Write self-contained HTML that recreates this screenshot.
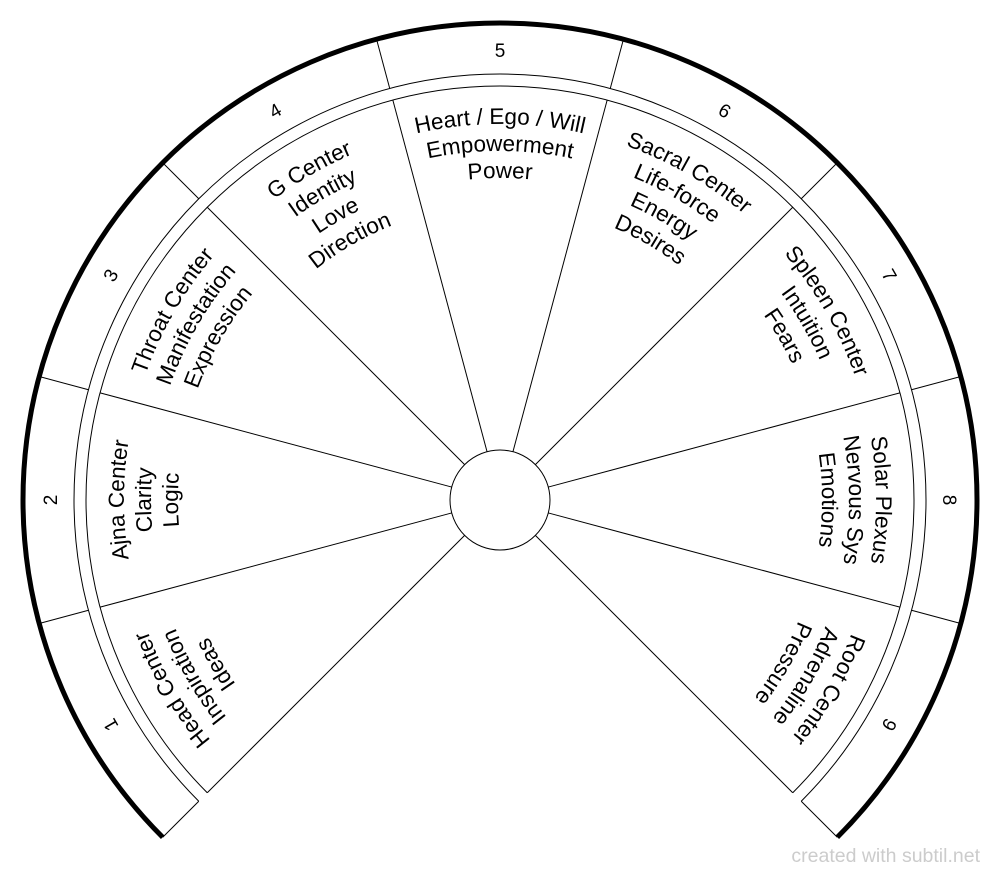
<!DOCTYPE html>
<html><head><meta charset="utf-8"><style>
html,body{margin:0;padding:0;background:#fff;width:1000px;height:876px;overflow:hidden}
svg{display:block}
text{font-family:"Liberation Sans",sans-serif}
</style></head><body>
<svg id="s" width="1000" height="876" viewBox="0 0 1000 876" xmlns="http://www.w3.org/2000/svg"></svg>
<script>
var C=500,CY=500,s=document.getElementById('s'),h='';
function pt(a,r){var t=a*Math.PI/180;return [C+r*Math.sin(t),CY-r*Math.cos(t)];}
function arc(a1,a2,r){var p=pt(a1,r),q=pt(a2,r),l=(a2-a1)>180?1:0;return 'M'+p[0].toFixed(2)+' '+p[1].toFixed(2)+' A'+r+' '+r+' 0 '+l+' 1 '+q[0].toFixed(2)+' '+q[1].toFixed(2);}
h+='<path d="'+arc(-135,135,477)+'" fill="none" stroke="#000" stroke-width="5"/>';
h+='<path d="'+arc(-135,135,426)+'" fill="none" stroke="#000" stroke-width="1"/>';
h+='<path d="'+arc(-135,135,414)+'" fill="none" stroke="#000" stroke-width="1"/>';
h+='<circle cx="500" cy="500" r="50" fill="none" stroke="#000" stroke-width="1"/>';
for(var i=0;i<=9;i++){var a=-135+30*i;var p=pt(a,426),q=pt(a,477);
h+='<line x1="'+p[0]+'" y1="'+p[1]+'" x2="'+q[0]+'" y2="'+q[1]+'" stroke="#000" stroke-width="1"/>';
p=pt(a,50);q=pt(a,414);
h+='<line x1="'+p[0]+'" y1="'+p[1]+'" x2="'+q[0]+'" y2="'+q[1]+'" stroke="#000" stroke-width="1"/>';}
var L=[["Head Center","Inspiration","Ideas"],["Ajna Center","Clarity","Logic"],["Throat Center","Manifestation","Expression"],["G Center","Identity","Love","Direction"],["Heart / Ego / Will","Empowerment","Power"],["Sacral Center","Life-force","Energy","Desires"],["Spleen Center","Intuition","Fears"],["Solar Plexus","Nervous Sys","Emotions"],["Root Center","Adrenaline","Pressure"]];
var id=0;
for(var k=0;k<9;k++){var a=(k-4)*30;
var d='p'+(id++);h+='<path id="'+d+'" d="'+arc(a-60,a+60,443)+'" fill="none"/>';
h+='<text font-size="19" text-anchor="middle"><textPath href="#'+d+'" startOffset="50%">'+(k+1)+'</textPath></text>';
for(var j=0;j<L[k].length;j++){var r=376-27*j;d='p'+(id++);
h+='<path id="'+d+'" d="'+arc(a-80,a+80,r)+'" fill="none"/>';
h+='<text font-size="22.5" text-anchor="middle"><textPath href="#'+d+'" startOffset="50%">'+L[k][j]+'</textPath></text>';}}
h+='<text x="980" y="862" font-size="19.5" fill="#ccc" text-anchor="end">created with subtil.net</text>';
s.innerHTML=h;
</script>
</body></html>
